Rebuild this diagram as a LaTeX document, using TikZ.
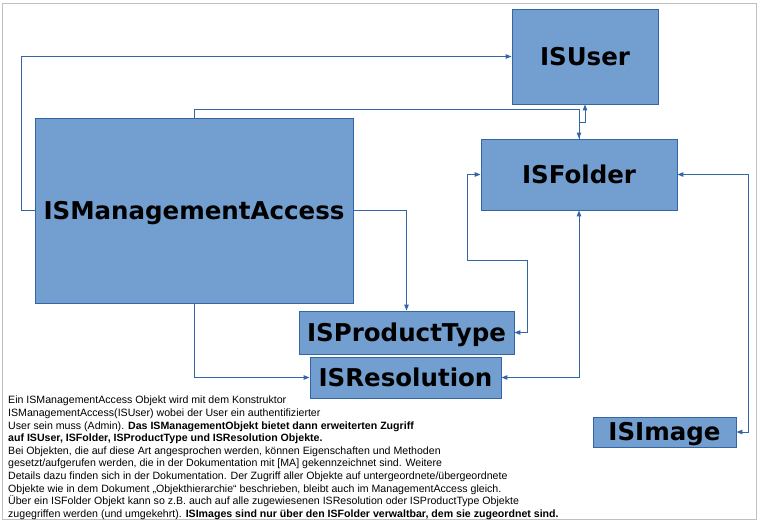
\documentclass[tikz,border=0pt]{standalone}
\usepackage{fontspec}
\setmainfont{Liberation Sans}
\newfontfamily\boxfont{DejaVu Sans}
\usetikzlibrary{arrows.meta}
\definecolor{lineblue}{HTML}{3465A4}
\definecolor{boxblue}{HTML}{729FCF}
\definecolor{framegrey}{HTML}{C0C0C0}
\tikzset{
  cls/.style={draw=lineblue, fill=boxblue, line width=0.9pt, inner sep=0pt,
    text height=17.9pt, text depth=0pt,
    font=\boxfont\bfseries\fontsize{24.5}{28}\selectfont},
  conn/.style={draw=lineblue, line width=1pt},
  tip/.style={-{Triangle[length=6pt,width=4.5pt]}},
  tips/.style={{Triangle[length=6pt,width=4.5pt]}-{Triangle[length=6pt,width=4.5pt]}}
}
\begin{document}
\begin{tikzpicture}[x=1pt,y=-1pt]
\useasboundingbox (0,0) rectangle (761,523);
\draw[framegrey, line width=1pt] (2.5,3.5) rectangle (756,519.5);

\node[cls, minimum width=146pt, minimum height=95pt] (user) at (585,56.5) {ISUser};
\node[cls, minimum width=196pt, minimum height=71pt] (folder) at (579,174.5) {ISFolder};
\node[cls, minimum width=318pt, minimum height=185pt] (ma) at (194,210.5) {ISManagementAccess};
\node[cls, minimum width=215pt, minimum height=43pt] (ptype) at (406.5,332.5) {ISProductType};
\node[cls, minimum width=191pt, minimum height=41pt] (res) at (405.5,377.5) {ISResolution};
\node[cls, minimum width=143pt, minimum height=30pt] (image) at (664.5,432) {ISImage};

\draw[conn,tip] (ma.west) -- ++(-13,0) |- (user.west);
\draw[conn,tip] (ma.north) -- ++(0,-8) -| (folder.north);
\draw[conn,tip] (folder.north) -- ++(0,-16.5) -| (user.south);
\draw[conn,tip] (ma.east) -| (ptype.north);
\draw[conn,tips] (ptype.east) -- ++(13,0) -- ++(0,-72.5) -- ++(-60,0) |- (folder.west);
\draw[conn,tips] (res.east) -| (folder.south);
\draw[conn,tips] (image.east) -- ++(12.5,0) |- (folder.east);
\draw[conn,tip] (ma.south) |- (res.west);

\node[anchor=north west, inner sep=0pt, align=left,
  font=\fontsize{10.6}{12.6}\selectfont] (desc) at (8,396) {%
Ein ISManagementAccess Objekt wird mit dem Konstruktor\\
ISManagementAccess(ISUser) wobei der User ein authentifizierter\\
User sein muss (Admin). \textbf{Das ISManagementObjekt bietet dann erweiterten Zugriff}\\
\textbf{auf ISUser, ISFolder, ISProductType und ISResolution Objekte.}\\
Bei Objekten, die auf diese Art angesprochen werden, können Eigenschaften und Methoden\\
gesetzt/aufgerufen werden, die in der Dokumentation mit [MA] gekennzeichnet sind. Weitere\\
Details dazu finden sich in der Dokumentation. Der Zugriff aller Objekte auf untergeordnete/übergeordnete\\
Objekte wie in dem Dokument „Objekthierarchie“ beschrieben, bleibt auch im ManagementAccess gleich.\\
Über ein ISFolder Objekt kann so z.B. auch auf alle zugewiesenen ISResolution oder ISProductType Objekte\\
zugegriffen werden (und umgekehrt). \textbf{ISImages sind nur über den ISFolder verwaltbar, dem sie zugeordnet sind.}};
\end{tikzpicture}
\end{document}
